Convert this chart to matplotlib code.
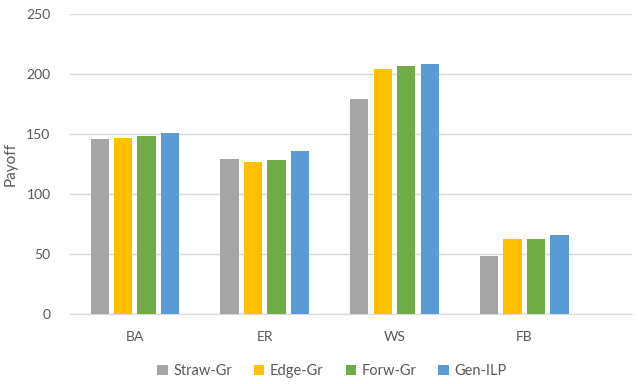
import numpy as np
import matplotlib.pyplot as plt

plt.rcParams['font.family'] = ['Lato', 'DejaVu Sans']

graphs = ["BA", "ER", "WS", "FB"]
methods = ["Straw-Gr", "Edge-Gr", "Forw-Gr", "Gen-ILP"]
straw_gr = [146, 129, 179, 48]
edge_gr = [146.5, 126.5, 204, 62.5]
forw_gr = [148.5, 128.5, 207, 62.5]
gen_ilp = [151, 136, 208, 66]
colors = ["#A5A5A5", "#FFC000", "#70AD47", "#5B9BD5"]

fig = plt.figure(figsize=(6.38, 3.84), dpi=100)
ax = fig.add_axes([70 / 638, 1 - 314 / 384, 562 / 638, 300 / 384])

x = np.arange(len(graphs))
width = 0.141
step = 0.181
for i, (vals, c) in enumerate(zip([straw_gr, edge_gr, forw_gr, gen_ilp], colors)):
    ax.bar(x + (i - 1.5) * step, vals, width, color=c, label=methods[i], zorder=3)

ax.set_ylim(0, 250)
ax.set_yticks(np.arange(0, 251, 50))
ax.set_xlim(-0.5, 3.83)
ax.set_xticks(x)
ax.set_xticklabels(graphs)
ax.grid(axis='y', color='#d9d9d9', linewidth=1, zorder=0)
for s in ['top', 'right', 'left']:
    ax.spines[s].set_visible(False)
ax.spines['bottom'].set_color('#d9d9d9')
ax.tick_params(length=0, colors='#595959', labelsize=10)
ax.tick_params(axis='y', pad=14)
ax.tick_params(axis='x', pad=12)
ax.set_ylabel("Payoff", color='#595959', fontsize=11, labelpad=6)

ax.legend(loc='center', bbox_to_anchor=(332 / 638, 13 / 384), bbox_transform=fig.transFigure,
          ncol=4, frameon=False, fontsize=10.5, handlelength=0.7, handleheight=0.7,
          handletextpad=0.4, columnspacing=1.5, labelcolor='#595959')

plt.savefig("out.png", dpi=100)
